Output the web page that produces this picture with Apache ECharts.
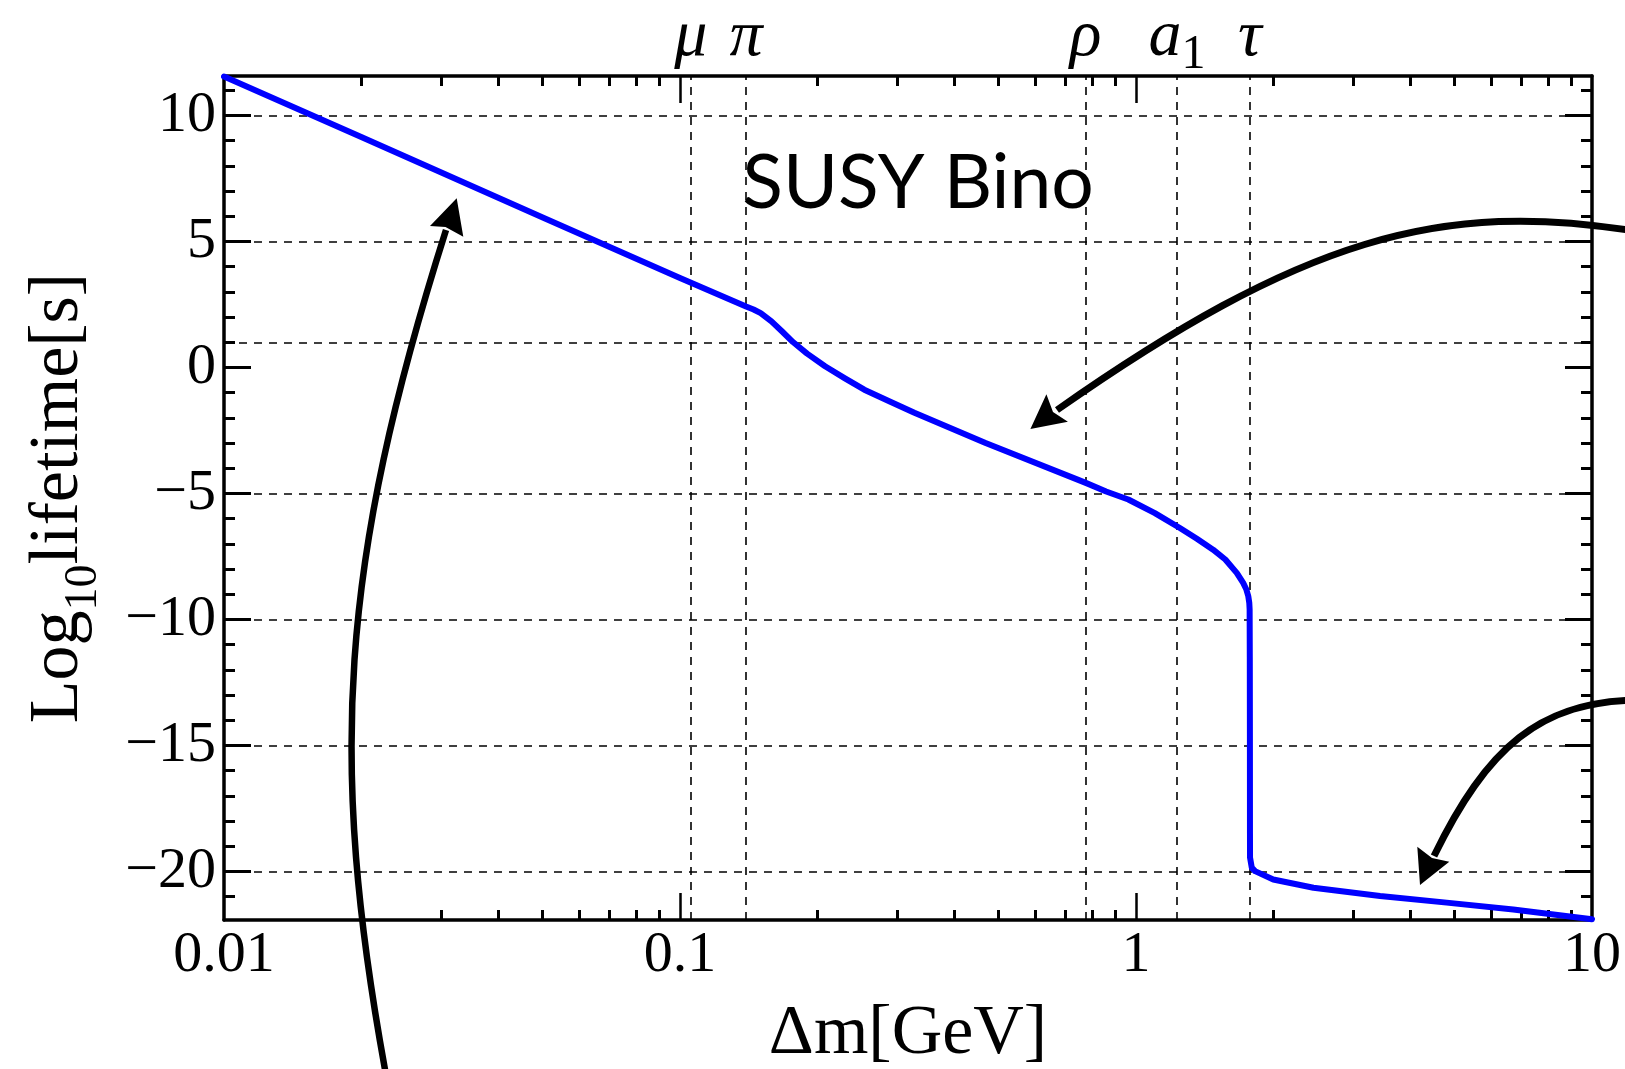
<!DOCTYPE html>
<html>
<head>
<meta charset="utf-8">
<title>SUSY Bino lifetime</title>
<script src="https://cdn.jsdelivr.net/npm/echarts@6/dist/echarts.min.js"></script>
<style>
  html, body { margin: 0; padding: 0; background: #fff; }
  #main { width: 1625px; height: 1069px; }
</style>
</head>
<body>
<div id="main"></div>
<script type="text/javascript">
// mass splitting [GeV] and log10 of the lifetime [s]
var deltaM = [0.01, 0.02, 0.05, 0.1, 0.1396, 0.145, 0.1503, 0.1587, 0.1675, 0.1769, 0.19, 0.208,
  0.23, 0.2536, 0.29, 0.3266, 0.4679, 0.776, 0.86, 0.962, 1.1, 1.248, 1.36, 1.476, 1.57,
  1.663, 1.718, 1.745, 1.763, 1.772, 1.775,
  1.7765, 1.7775, 1.778, 1.7785, 1.794, 1.824, 2.0, 2.45, 3.43, 4.8, 6.72, 10];
var logLife = [11.55, 9.15, 5.95, 3.55, 2.42, 2.3, 2.16, 1.83, 1.43, 1.01, 0.55, 0.05,
  -0.43, -0.88, -1.37, -1.8, -3.0, -4.58, -4.92, -5.24, -5.78, -6.37, -6.8, -7.23, -7.62,
  -8.15, -8.55, -8.8, -9.08, -9.35, -9.6,
  -11.5, -15, -18.5, -19.45, -19.85, -19.99, -20.32, -20.65, -20.98, -21.24, -21.51, -21.9];

// particle thresholds drawn as dashed vertical lines
var thresholdMass = [0.10566, 0.13957, 0.775, 1.23, 1.777];
var thresholdName = ['{g|μ}', '{g|π}', '{g|ρ}', '{g|a}{s|1}', '{g|τ}'];

// dashed horizontal lines
var gridY = [10, 5, 1, -5, -10, -15, -20];

// ticks
var xLabelTicks = [0.01, 0.1, 1, 10];
var xLabelText = ['0.01', '0.1', '1', '10'];
var xMajorTicks = [0.1, 1];
var xMinorTicks = [0.02, 0.03, 0.04, 0.05, 0.06, 0.07, 0.08, 0.09,
  0.2, 0.3, 0.4, 0.5, 0.6, 0.7, 0.8, 0.9, 2, 3, 4, 5, 6, 7, 8, 9];
var yMajorTicks = [-20, -15, -10, -5, 0, 5, 10];
var yMinorTicks = [-21, -19, -18, -17, -16, -14, -13, -12, -11, -9, -8, -7, -6,
  -4, -3, -2, -1, 1, 2, 3, 4, 6, 7, 8, 9, 11];

var X_MIN = 0.01, X_MAX = 10, Y_MIN = -21.93, Y_MAX = 11.57;
var SERIF = 'Liberation Serif';

function nearestIndex(list, v) {
  var best = 0;
  for (var i = 1; i < list.length; i++) {
    if (Math.abs(Math.log(list[i] / v)) < Math.abs(Math.log(list[best] / v))) best = i;
  }
  return best;
}

var chart = echarts.init(document.getElementById('main'));

var frameLine = { show: true, onZero: false, lineStyle: { color: '#000', width: 3.5 } };
var noLine = { show: false, onZero: false };

function xAxisDef(pos, ticks, len, extra) {
  var a = {
    type: 'log', logBase: 10, position: pos, min: X_MIN, max: X_MAX,
    axisLine: noLine,
    axisTick: { show: true, inside: true, length: len, customValues: ticks,
      lineStyle: { color: '#000', width: len > 20 ? 2.5 : 3 } },
    axisLabel: { show: false },
    splitLine: { show: false }, minorTick: { show: false }
  };
  return Object.assign(a, extra || {});
}
function yAxisDef(pos, ticks, len, extra) {
  var a = {
    type: 'value', position: pos, min: Y_MIN, max: Y_MAX,
    axisLine: noLine,
    axisTick: { show: true, inside: true, length: len, customValues: ticks,
      lineStyle: { color: '#000', width: 3 } },
    axisLabel: { show: false },
    splitLine: { show: false }
  };
  return Object.assign(a, extra || {});
}

var pts = deltaM.map(function (m, i) { return [m, logLife[i]]; });

var option = {
  animation: false,
  backgroundColor: '#fff',
  grid: { left: 224, right: 33, top: 76, bottom: 149, containLabel: false, outerBoundsMode: 'none' },
  xAxis: [
    xAxisDef('bottom', xMajorTicks, 27, {
      axisLine: frameLine,
      axisLabel: {
        show: true, customValues: xLabelTicks, margin: 7,
        fontFamily: SERIF, fontSize: 58, color: '#000',
        formatter: function (v) { return xLabelText[nearestIndex(xLabelTicks, v)]; }
      },
      name: 'Δm[GeV]', nameLocation: 'middle', nameGap: 80,
      nameTextStyle: { fontFamily: SERIF, fontSize: 70, color: '#000' }
    }),
    xAxisDef('bottom', xMinorTicks, 10),
    xAxisDef('top', xMajorTicks, 27, {
      axisLine: frameLine,
      axisLabel: {
        show: true, customValues: thresholdMass, margin: 5,
        fontFamily: SERIF, fontSize: 66, color: '#000',
        formatter: function (v) { return thresholdName[nearestIndex(thresholdMass, v)]; },
        rich: {
          g: { fontFamily: SERIF, fontStyle: 'italic', fontSize: 66, lineHeight: 66, color: '#000' },
          s: { fontFamily: SERIF, fontSize: 48, height: 32, verticalAlign: 'bottom', color: '#000' }
        }
      }
    }),
    xAxisDef('top', xMinorTicks, 10)
  ],
  yAxis: [
    yAxisDef('left', yMajorTicks, 27, {
      axisLine: frameLine,
      axisLabel: {
        show: true, customValues: yMajorTicks, margin: 8,
        fontFamily: SERIF, fontSize: 58, color: '#000',
        formatter: function (v) { return String(v).replace('-', '\u2212'); }
      },
      name: '{m|Log}{s|10}{m|lifetime[s]}', nameLocation: 'middle', nameRotate: 90, nameGap: 130,
      nameTextStyle: {
        fontFamily: SERIF, fontSize: 70, color: '#000',
        rich: {
          m: { fontFamily: SERIF, fontSize: 70, lineHeight: 70, color: '#000' },
          s: { fontFamily: SERIF, fontSize: 46, height: 20, verticalAlign: 'bottom', color: '#000' }
        }
      }
    }),
    yAxisDef('left', yMinorTicks, 11),
    yAxisDef('right', yMajorTicks, 27, { axisLine: frameLine }),
    yAxisDef('right', yMinorTicks, 11)
  ],
  series: [{
    name: 'SUSY Bino',
    type: 'line',
    xAxisIndex: 0, yAxisIndex: 0,
    data: pts,
    showSymbol: false,
    smooth: false,
    lineStyle: { color: '#0000ff', width: 6, join: 'round', cap: 'round' },
    z: 3,
    markLine: {
      silent: true, z: 1, symbol: 'none', animation: false, precision: 6,
      label: { show: false },
      lineStyle: { color: '#000', width: 1.6, type: [8, 7] },
      data: thresholdMass.map(function (m) { return { xAxis: m }; })
        .concat(gridY.map(function (y) { return { yAxis: y }; }))
    }
  }],
  graphic: [
    { type: 'text', x: 918, y: 184, z: 50,
      style: { text: 'SUSY Bino', font: '75px Lato', fill: '#000', textAlign: 'center', textVerticalAlign: 'middle' } },
    // annotation arrows
    { type: 'bezierCurve', z: 60,
      shape: { x1: 386, y1: 1075, cpx1: 328, cpy1: 760, cpx2: 340, cpy2: 564, x2: 446, y2: 230 },
      style: { stroke: '#000', lineWidth: 6.5, fill: null } },
    { type: 'polygon', z: 60,
      shape: { points: [[456.7, 198.3], [430, 226], [445.5, 227], [463.3, 236.7]] },
      style: { fill: '#000' } },
    { type: 'bezierCurve', z: 60,
      shape: { x1: 1640, y1: 232, cpx1: 1440, cpy1: 198, cpx2: 1300, cpy2: 240, x2: 1057, y2: 410 },
      style: { stroke: '#000', lineWidth: 7, fill: null } },
    { type: 'polygon', z: 60,
      shape: { points: [[1030.4, 429], [1046.4, 394.3], [1053, 412], [1067.9, 421.7]] },
      style: { fill: '#000' } },
    { type: 'bezierCurve', z: 60,
      shape: { x1: 1640, y1: 700, cpx1: 1540, cpy1: 700, cpx2: 1486.7, cpy2: 748.1, x2: 1434, y2: 856 },
      style: { stroke: '#000', lineWidth: 7, fill: null } },
    { type: 'polygon', z: 60,
      shape: { points: [[1420, 885], [1417.3, 846.7], [1432, 858], [1449.3, 861.7]] },
      style: { fill: '#000' } }
  ]
};

chart.setOption(option);
</script>
</body>
</html>
